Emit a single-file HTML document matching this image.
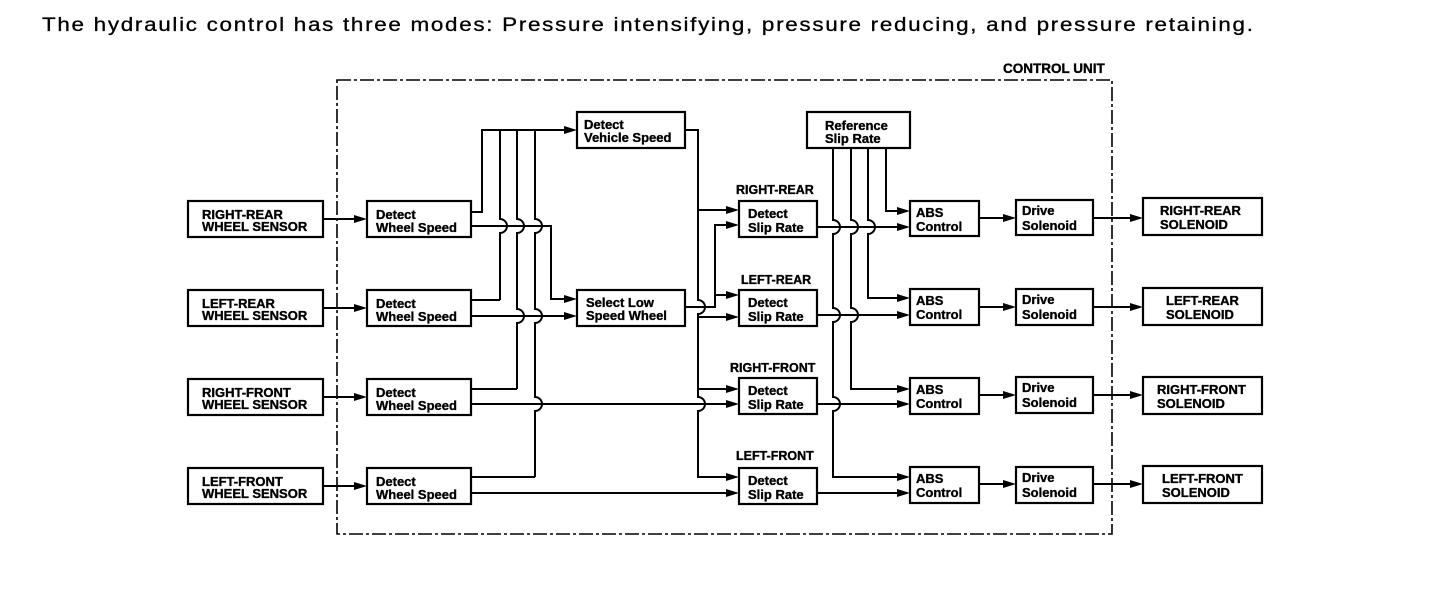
<!DOCTYPE html>
<html>
<head>
<meta charset="utf-8">
<style>
  html,body{margin:0;padding:0;background:#fff;}
  svg{display:block;}
  text{font-family:"Liberation Sans",Arial,sans-serif;fill:#000;}
  .b{font-weight:bold;font-size:13px;stroke:#000;stroke-width:0.35px;}
  .l{font-weight:bold;font-size:12.5px;stroke:#000;stroke-width:0.35px;}
</style>
</head>
<body>
<svg width="1456" height="590" viewBox="0 0 1456 590" xmlns="http://www.w3.org/2000/svg">
<rect x="0" y="0" width="1456" height="590" fill="#fff"/>

<!-- Title -->
<g transform="translate(42,31) scale(1.15,1)">
<text x="0" y="0" font-size="19.5" stroke="#000" stroke-width="0.3" textLength="1053" lengthAdjust="spacing">The hydraulic control has three modes: Pressure intensifying, pressure reducing, and pressure retaining.</text>
</g>

<!-- Control unit dashed border -->
<text class="b" x="1003" y="73" style="font-size:13.5px">CONTROL UNIT</text>
<rect x="337" y="80" width="775" height="454" fill="none" stroke="#000" stroke-width="1.6" stroke-dasharray="14 3 3 3"/>

<g fill="none" stroke="#000" stroke-width="2.2">
  <!-- Sensor boxes -->
  <rect x="188" y="201" width="135" height="36"/>
  <rect x="188" y="290" width="135" height="36"/>
  <rect x="188" y="379" width="135" height="36"/>
  <rect x="188" y="468" width="135" height="36"/>
  <!-- Detect wheel speed -->
  <rect x="367" y="201" width="104" height="36"/>
  <rect x="367" y="290" width="104" height="36"/>
  <rect x="367" y="379" width="104" height="36"/>
  <rect x="367" y="468" width="104" height="36"/>
  <!-- Vehicle speed / select low -->
  <rect x="577" y="112" width="108" height="36"/>
  <rect x="577" y="290" width="108" height="36"/>
  <!-- Reference slip rate -->
  <rect x="807" y="112" width="103" height="36"/>
  <!-- Detect slip rate -->
  <rect x="739" y="201" width="78" height="36"/>
  <rect x="739" y="290" width="78" height="36"/>
  <rect x="739" y="378" width="78" height="36"/>
  <rect x="739" y="468" width="78" height="36"/>
  <!-- ABS control -->
  <rect x="910" y="201" width="69" height="35"/>
  <rect x="910" y="289" width="69" height="36"/>
  <rect x="910" y="378" width="69" height="36"/>
  <rect x="910" y="467" width="69" height="36"/>
  <!-- Drive solenoid -->
  <rect x="1016" y="200" width="77" height="35"/>
  <rect x="1016" y="289" width="77" height="36"/>
  <rect x="1016" y="377" width="77" height="36"/>
  <rect x="1016" y="467" width="77" height="36"/>
  <!-- Solenoid output boxes -->
  <rect x="1143" y="198" width="119" height="37"/>
  <rect x="1143" y="288" width="119" height="37"/>
  <rect x="1143" y="377" width="119" height="37"/>
  <rect x="1143" y="466" width="119" height="37"/>
</g>

<g fill="none" stroke="#000" stroke-width="2">
  <!-- Sensor -> wheel speed -->
  <path d="M323,219 H358 M323,308 H358 M323,397 H358 M323,486 H358"/>

  <!-- Wheel speed upper outputs to vehicle speed bus -->
  <path d="M471,212 H482 V130 H568"/>
  <path d="M471,300 H500"/>
  <path d="M500,130 V219 A7,7 0 0 1 500,233 V300"/>
  <path d="M471,389 H517"/>
  <path d="M517,130 V219 A7,7 0 0 1 517,233 V309 A7,7 0 0 1 517,323 V389"/>
  <path d="M471,477 H535"/>
  <path d="M535,130 V219 A7,7 0 0 1 535,233 V309 A7,7 0 0 1 535,323 V397 A7,7 0 0 1 535,411 V477"/>

  <!-- Wheel speed lower outputs -->
  <path d="M471,226 H551 V299 H568"/>
  <path d="M471,316 H568"/>
  <path d="M471,404 H730"/>
  <path d="M471,493 H730"/>

  <!-- Vehicle speed output bus -->
  <path d="M685,130 H698 V300 A7,7 0 0 1 698,314 V397 A7,7 0 0 1 698,411 V477 H730"/>
  <path d="M698,210 H730 M698,317 H730 M698,389 H730"/>

  <!-- Select low output -->
  <path d="M685,307 H715 V225 H730 M715,295 H730"/>

  <!-- Slip rate outputs -->
  <path d="M817,227 H901 M817,315 H901 M817,404 H901 M817,493 H901"/>

  <!-- Reference slip rate verticals -->
  <path d="M886,148 V211 H901"/>
  <path d="M868,148 V220 A7,7 0 0 1 868,234 V298 H901"/>
  <path d="M851,148 V220 A7,7 0 0 1 851,234 V308 A7,7 0 0 1 851,322 V389 H901"/>
  <path d="M833,148 V220 A7,7 0 0 1 833,234 V308 A7,7 0 0 1 833,322 V397 A7,7 0 0 1 833,411 V477 H901"/>

  <!-- ABS -> Drive -> Solenoid -->
  <path d="M979,218 H1007 M979,307 H1007 M979,395 H1007 M979,484 H1007"/>
  <path d="M1093,218 H1134 M1093,307 H1134 M1093,395 H1134 M1093,484 H1134"/>
</g>

<!-- Arrowheads -->
<g fill="#000" stroke="none">
  <polygon points="367,219 354,215 354,223"/>
  <polygon points="367,308 354,304 354,312"/>
  <polygon points="367,397 354,393 354,401"/>
  <polygon points="367,486 354,482 354,490"/>

  <polygon points="577,130 564,126 564,134"/>
  <polygon points="577,299 564,295 564,303"/>
  <polygon points="577,316 564,312 564,320"/>

  <polygon points="739,210 726,206 726,214"/>
  <polygon points="739,225 726,221 726,229"/>
  <polygon points="739,295 726,291 726,299"/>
  <polygon points="739,317 726,313 726,321"/>
  <polygon points="739,389 726,385 726,393"/>
  <polygon points="739,404 726,400 726,408"/>
  <polygon points="739,477 726,473 726,481"/>
  <polygon points="739,493 726,489 726,497"/>

  <polygon points="910,211 897,207 897,215"/>
  <polygon points="910,227 897,223 897,231"/>
  <polygon points="910,298 897,294 897,302"/>
  <polygon points="910,315 897,311 897,319"/>
  <polygon points="910,389 897,385 897,393"/>
  <polygon points="910,404 897,400 897,408"/>
  <polygon points="910,477 897,473 897,481"/>
  <polygon points="910,493 897,489 897,497"/>

  <polygon points="1016,218 1003,214 1003,222"/>
  <polygon points="1016,307 1003,303 1003,311"/>
  <polygon points="1016,395 1003,391 1003,399"/>
  <polygon points="1016,484 1003,480 1003,488"/>

  <polygon points="1143,218 1130,214 1130,222"/>
  <polygon points="1143,307 1130,303 1130,311"/>
  <polygon points="1143,395 1130,391 1130,399"/>
  <polygon points="1143,484 1130,480 1130,488"/>
</g>

<!-- Box texts -->
<g>
  <text class="b" x="202" y="219">RIGHT-REAR</text>
  <text class="b" x="202" y="231">WHEEL SENSOR</text>
  <text class="b" x="202" y="308">LEFT-REAR</text>
  <text class="b" x="202" y="320">WHEEL SENSOR</text>
  <text class="b" x="202" y="397">RIGHT-FRONT</text>
  <text class="b" x="202" y="409">WHEEL SENSOR</text>
  <text class="b" x="202" y="486">LEFT-FRONT</text>
  <text class="b" x="202" y="498">WHEEL SENSOR</text>

  <text class="b" x="376" y="219">Detect</text>
  <text class="b" x="376" y="232">Wheel Speed</text>
  <text class="b" x="376" y="308">Detect</text>
  <text class="b" x="376" y="321">Wheel Speed</text>
  <text class="b" x="376" y="397">Detect</text>
  <text class="b" x="376" y="410">Wheel Speed</text>
  <text class="b" x="376" y="486">Detect</text>
  <text class="b" x="376" y="499">Wheel Speed</text>

  <text class="b" x="584" y="129">Detect</text>
  <text class="b" x="584" y="142">Vehicle Speed</text>
  <text class="b" x="586" y="307">Select Low</text>
  <text class="b" x="586" y="320">Speed Wheel</text>

  <text class="b" x="825" y="130">Reference</text>
  <text class="b" x="825" y="143">Slip Rate</text>

  <text class="b" x="748" y="218">Detect</text>
  <text class="b" x="748" y="232">Slip Rate</text>
  <text class="b" x="748" y="307">Detect</text>
  <text class="b" x="748" y="321">Slip Rate</text>
  <text class="b" x="748" y="395">Detect</text>
  <text class="b" x="748" y="409">Slip Rate</text>
  <text class="b" x="748" y="485">Detect</text>
  <text class="b" x="748" y="499">Slip Rate</text>

  <text class="b" x="916" y="217">ABS</text>
  <text class="b" x="916" y="231">Control</text>
  <text class="b" x="916" y="305">ABS</text>
  <text class="b" x="916" y="319">Control</text>
  <text class="b" x="916" y="394">ABS</text>
  <text class="b" x="916" y="408">Control</text>
  <text class="b" x="916" y="483">ABS</text>
  <text class="b" x="916" y="497">Control</text>

  <text class="b" x="1022" y="215">Drive</text>
  <text class="b" x="1022" y="230">Solenoid</text>
  <text class="b" x="1022" y="304">Drive</text>
  <text class="b" x="1022" y="319">Solenoid</text>
  <text class="b" x="1022" y="392">Drive</text>
  <text class="b" x="1022" y="407">Solenoid</text>
  <text class="b" x="1022" y="482">Drive</text>
  <text class="b" x="1022" y="497">Solenoid</text>

  <text class="b" x="1160" y="215">RIGHT-REAR</text>
  <text class="b" x="1160" y="229">SOLENOID</text>
  <text class="b" x="1166" y="305">LEFT-REAR</text>
  <text class="b" x="1166" y="319">SOLENOID</text>
  <text class="b" x="1157" y="394">RIGHT-FRONT</text>
  <text class="b" x="1157" y="408">SOLENOID</text>
  <text class="b" x="1162" y="483">LEFT-FRONT</text>
  <text class="b" x="1162" y="497">SOLENOID</text>
</g>

<!-- Labels above slip rate boxes -->
<text class="l" x="736" y="194">RIGHT-REAR</text>
<text class="l" x="741" y="284">LEFT-REAR</text>
<text class="l" x="730" y="372">RIGHT-FRONT</text>
<text class="l" x="736" y="460">LEFT-FRONT</text>
</svg>
</body>
</html>
